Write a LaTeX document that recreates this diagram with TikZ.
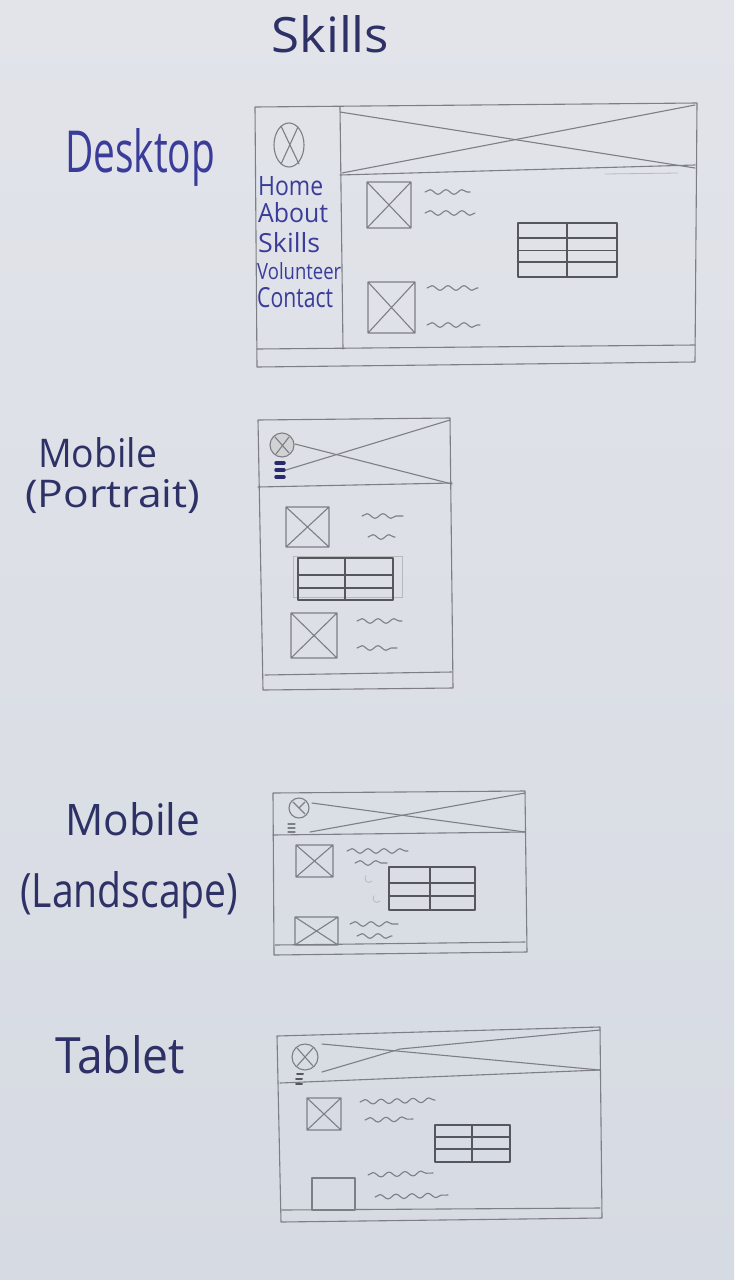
\documentclass[tikz,border=0pt]{standalone}
\usepackage{fontspec}
\setmainfont{Open Sans}
\usetikzlibrary{decorations.pathmorphing}

\definecolor{papertop}{HTML}{E2E4EA}
\definecolor{paperbot}{HTML}{D6DAE2}
\definecolor{pencilgrey}{HTML}{7D7F85}
\definecolor{pencildark}{HTML}{55575D}
\definecolor{navyink}{HTML}{2E3166}
\definecolor{blueink}{HTML}{3B3C9A}

% handwriting-sized text: width, height above baseline, text
\newcommand\hw[3]{\resizebox{#1pt}{#2pt}{#3}}
% image placeholder: box with a cross
\newcommand\imgx[4]{\draw[pencil] (#1,#2) rectangle (#3,#4) (#1,#2) -- (#3,#4) (#1,#4) -- (#3,#2);}
% a small table: x1,y1,x2,y2, column divider x, two row lines y
\newcommand\tbl[7]{\draw[tablepen] (#1,#2) rectangle (#3,#4) (#5,#2) -- (#5,#4) (#1,#6) -- (#3,#6) (#1,#7) -- (#3,#7);}

\tikzset{
  pencil/.style={draw=pencilgrey, line width=1.1pt, line cap=round, line join=round},
  faint/.style={draw=pencilgrey!55, line width=0.8pt, line cap=round},
  tablepen/.style={draw=pencildark, line width=1.4pt, line cap=round, line join=round},
  wave/.style={pencil, decorate, decoration={snake, amplitude=2.3pt, segment length=16pt}},
  label/.style={text=navyink, anchor=base west, inner sep=0pt},
  navlabel/.style={text=blueink, anchor=base west, inner sep=0pt},
  burger/.style={draw=blueink!70!black, line width=3.5pt, line cap=round},
}

\begin{document}
\begin{tikzpicture}[x=1pt,y=-1pt]
\useasboundingbox (0,0) rectangle (734,1280);
\fill[top color=papertop, bottom color=paperbot] (0,0) rectangle (734,1280);

% ---------- title ----------
\node[label] (title) at (271,52) {\hw{118}{37}{Skills}};

% ---------- Desktop ----------
\node[label, text=blueink] (lblDesktop) at (65,172) {\hw{150}{44}{Desktop}};
\draw[pencil] (255,107) -- (697,103) -- (695,362) -- (257,367) -- cycle;
\draw[pencil] (257,349) -- (695,345);
\draw[pencil] (340,107) -- (343,349);
\draw[pencil] (340,175) -- (695,165);
\draw[faint] (605,174) -- (678,173);
\draw[pencil] (340,112) -- (695,168);
\draw[pencil] (342,173) -- (695,105);
% logo
\draw[pencil] (289,145) ellipse [x radius=15, y radius=22];
\draw[pencil] (281,126) -- (299,164) (298,127) -- (281,164);
% navigation
\node[navlabel] (navHome) at (258,195) {\hw{65}{19}{Home}};
\node[navlabel] (navAbout) at (258,222) {\hw{70}{20}{About}};
\node[navlabel] (navSkills) at (258,252) {\hw{62}{20}{Skills}};
\node[navlabel] (navVolunteer) at (257,279) {\hw{84}{17}{Volunteer}};
\node[navlabel] (navContact) at (257,307) {\hw{76}{20}{Contact}};
% content
\imgx{367}{182}{411}{228}
\draw[wave] (425,192) -- (470,192);
\draw[wave] (425,213) -- (475,213);
\tbl{518}{223}{617}{277}{567}{238}{262}
\draw[tablepen, line width=0.9pt] (518,250) -- (617,250);
\imgx{368}{282}{415}{333}
\draw[wave] (427,288) -- (478,288);
\draw[wave] (427,325) -- (480,325);

% ---------- Mobile (Portrait) ----------
\node[label] (lblMobileP) at (38,467) {\hw{119}{30}{Mobile}};
\node[label] (lblPortrait) at (25,507) {\hw{175}{28}{(Portrait)}};
\draw[pencil] (258,420) -- (450,418) -- (453,688) -- (263,690) -- cycle;
\draw[pencil] (258,487) -- (452,483);
\draw[pencil] (265,675) -- (452,672);
\draw[pencil] (295,444) -- (452,484);
\draw[pencil] (286,470) -- (450,420);
\draw[pencil, fill=pencilgrey!35] (282,445) circle [radius=12];
\draw[pencil] (275,437) -- (289,453) (289,437) -- (276,454);
\draw[burger] (276,463) -- (284,463) (276,470) -- (284,470) (276,477) -- (284,477);
\imgx{286}{507}{329}{547}
\draw[wave] (362,516) -- (403,516);
\draw[wave] (368,537) -- (395,537);
\draw[faint] (293,556) rectangle (402,597);
\tbl{298}{558}{393}{600}{345}{575}{588}
\imgx{291}{613}{337}{658}
\draw[wave] (357,621) -- (402,621);
\draw[wave] (357,648) -- (397,648);

% ---------- Mobile (Landscape) ----------
\node[label] (lblMobileL) at (65,835) {\hw{135}{33}{Mobile}};
\node[label] (lblLandscape) at (20,907) {\hw{218}{36}{(Landscape)}};
\draw[pencil] (273,793) -- (525,791) -- (527,952) -- (274,955) -- cycle;
\draw[pencil] (273,835) -- (525,832);
\draw[pencil] (275,945) -- (525,942);
\draw[pencil] (312,803) -- (525,832);
\draw[pencil] (310,832) -- (525,793);
\draw[pencil] (299,808) circle [radius=10];
\draw[pencil] (293,802) -- (305,814) (305,802) -- (299,808);
\draw[pencil, line width=1.2pt] (288,824) -- (295,824) (288,828) -- (295,828) (288,832) -- (295,832);
\imgx{296}{845}{333}{877}
\draw[wave] (347,851) -- (408,851);
\draw[wave] (355,863) -- (387,863);
\draw[faint] (372,881) arc (40:220:4);
\draw[faint] (380,901) arc (40:220:4);
\tbl{389}{867}{475}{910}{430}{883}{896}
\imgx{295}{917}{338}{945}
\draw[wave] (350,924) -- (398,924);
\draw[wave] (357,936) -- (392,936);

% ---------- Tablet ----------
\node[label] (lblTablet) at (55,1073) {\hw{130}{38}{Tablet}};
\draw[pencil] (277,1036) -- (600,1027) -- (602,1218) -- (281,1222) -- cycle;
\draw[pencil] (280,1083) -- (600,1070);
\draw[pencil] (282,1210) -- (600,1208);
\draw[pencil] (322,1044) -- (600,1070);
\draw[pencil] (322,1072) -- (400,1049) -- (600,1030);
\draw[pencil] (305,1057) circle [radius=13];
\draw[pencil] (297,1048) -- (313,1066) (313,1048) -- (297,1066);
\draw[tablepen, line width=2pt] (297,1074) -- (303,1074) (296,1079) -- (302,1079) (296,1084) -- (302,1084);
\imgx{307}{1098}{341}{1130}
\draw[wave] (360,1102) -- (435,1100);
\draw[wave] (365,1120) -- (413,1119);
\tbl{435}{1125}{510}{1162}{472}{1137}{1149}
\draw[pencil] (312,1178) rectangle (355,1210);
\draw[wave] (368,1175) -- (433,1173);
\draw[wave] (375,1197) -- (448,1195);
\end{tikzpicture}
\end{document}
